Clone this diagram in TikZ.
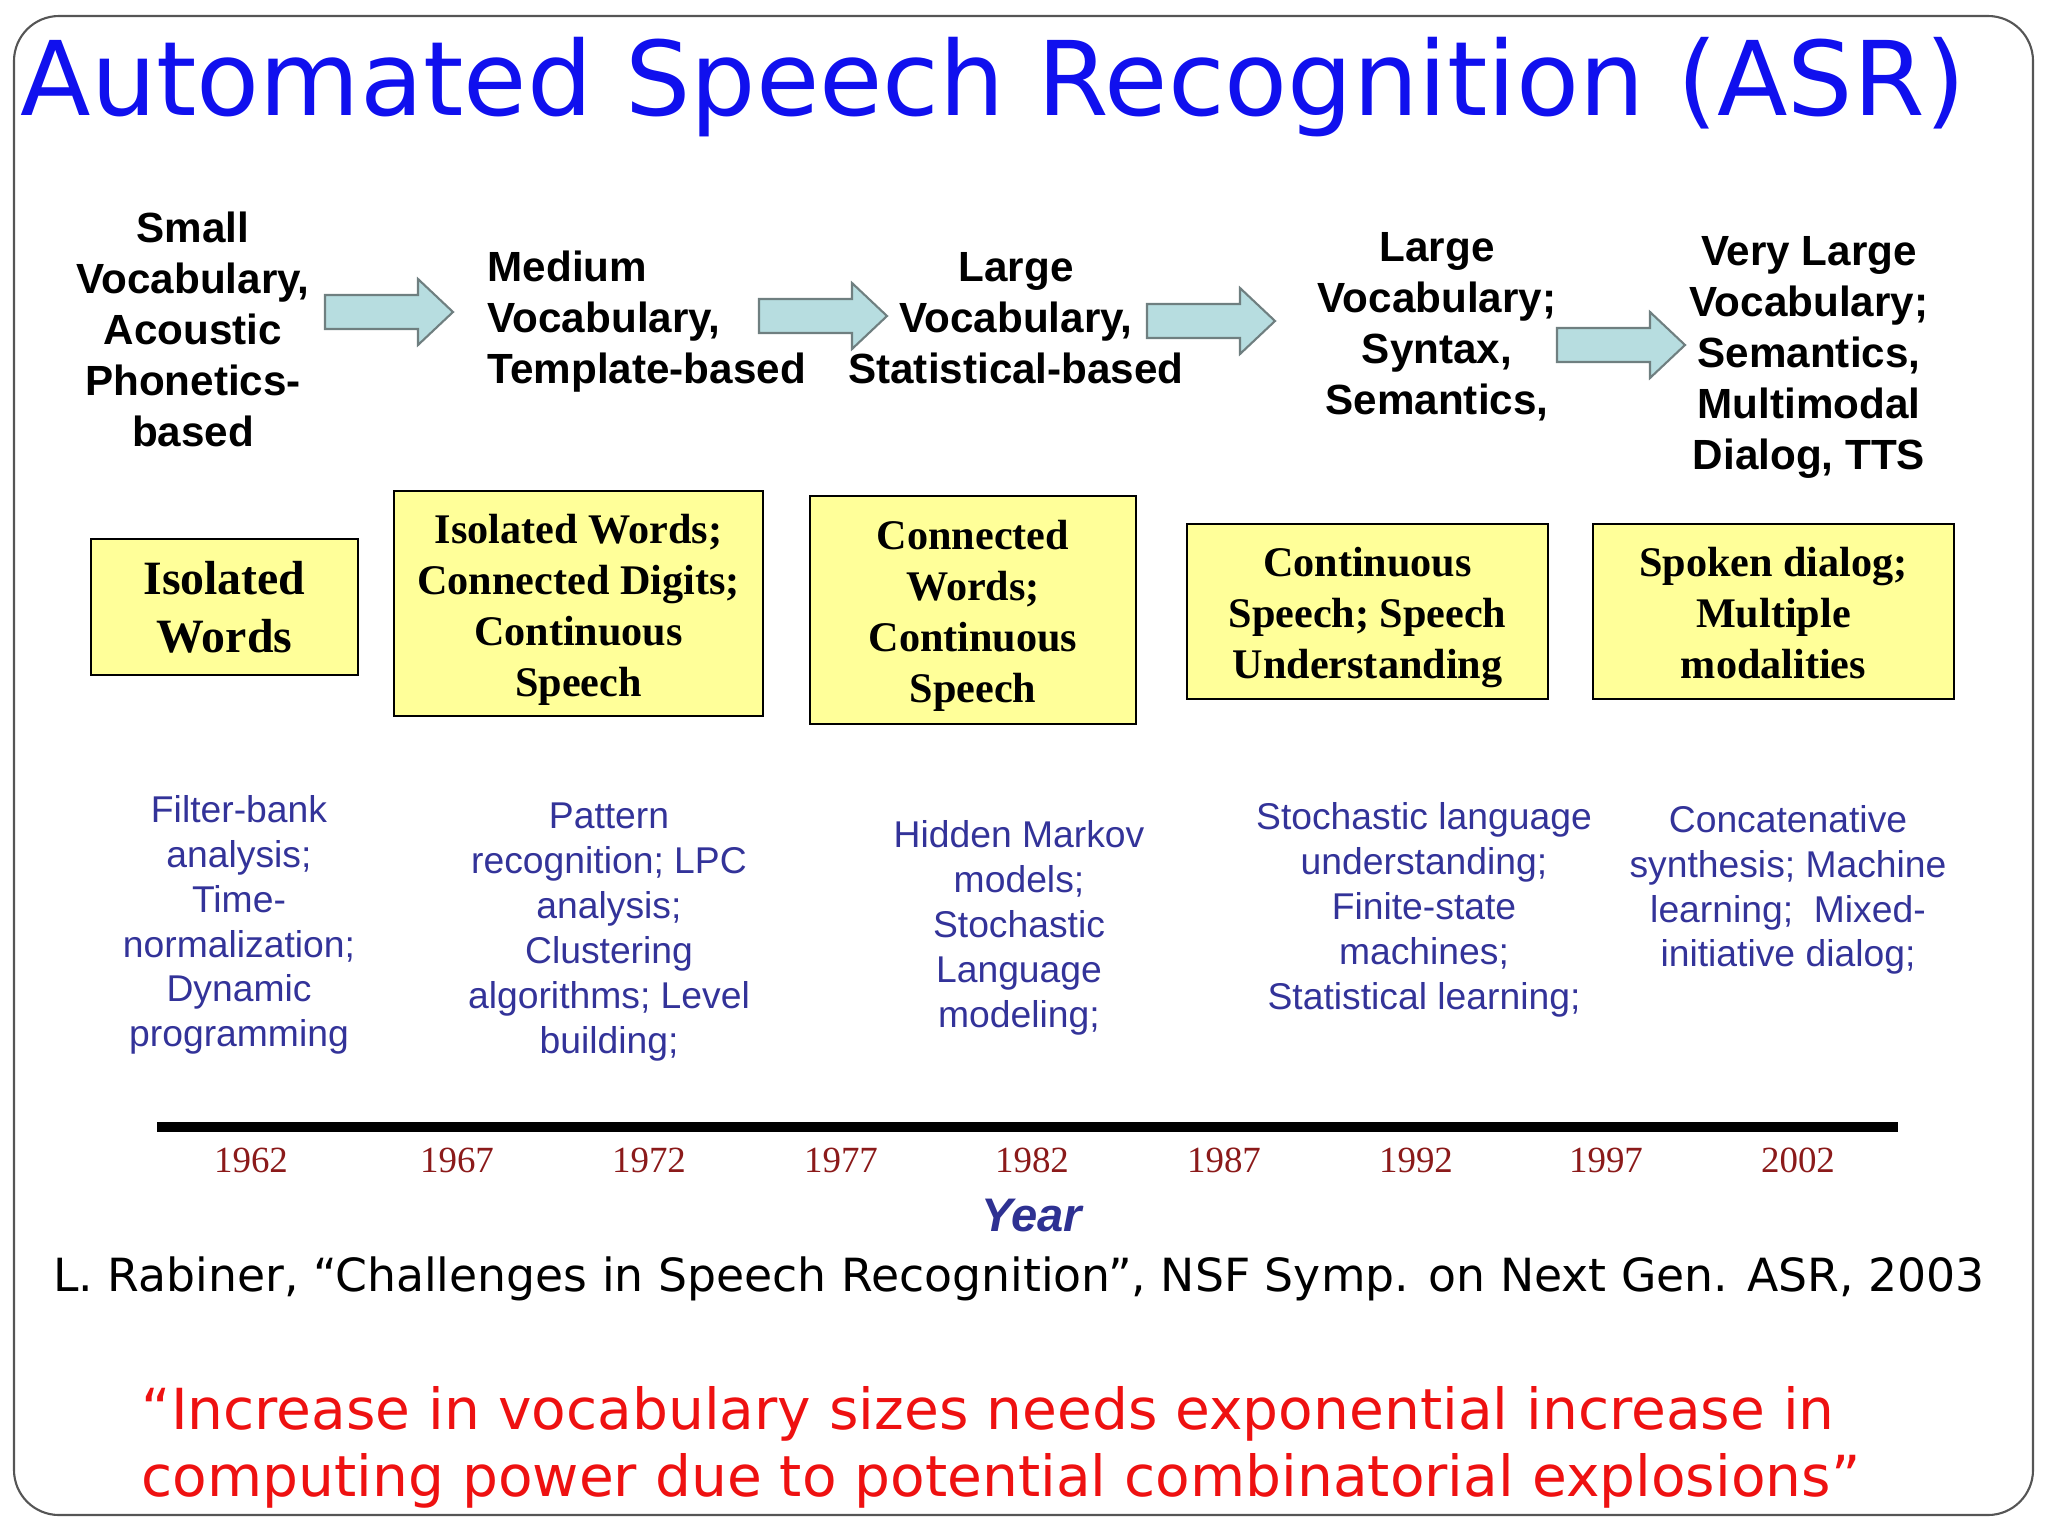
\documentclass[tikz,border=0pt]{standalone}
\usepackage{fontspec}
\setmainfont{Liberation Serif}
\newfontfamily\arialfont{Liberation Sans}
\newfontfamily\verdanafont{DejaVu Sans}
\usepackage{tikz}
\usetikzlibrary{positioning, calc}
\definecolor{titleBlue}{HTML}{1010EE}
\definecolor{methodBlue}{HTML}{333399}
\definecolor{yearBlue}{HTML}{2E3192}
\definecolor{yearRed}{HTML}{8B1A1A}
\definecolor{boxYellow}{HTML}{FFFF99}
\definecolor{arrowCyan}{HTML}{B7DDE0}
\definecolor{arrowEdge}{HTML}{6F7F80}
\definecolor{quoteRed}{HTML}{EE1111}
\definecolor{frameGray}{HTML}{555555}
\tikzset{
  vocab/.style={font=\arialfont\bfseries\fontsize{12}{14.5}\selectfont,
    align=center, inner sep=0pt},
  era/.style={rectangle, draw=black, line width=0.7pt, fill=boxYellow,
    align=center, font=\bfseries\fontsize{12}{14.5}\selectfont,
    inner sep=0pt},
  method/.style={font=\arialfont\fontsize{10.6}{12.75}\selectfont,
    text=methodBlue, align=center, inner sep=0pt},
  yearlbl/.style={font=\fontsize{10.5}{12}\selectfont, text=yearRed,
    inner sep=0pt},
  blockarrow/.style={fill=arrowCyan, draw=arrowEdge, line width=0.6pt,
    line join=miter},
}

\begin{document}
\begin{tikzpicture}[x=0.01cm, y=-0.01cm]
    \useasboundingbox (0,0) rectangle (2048,1536);
    \draw[frameGray, line width=0.6pt, rounded corners=0.45cm]
      (14,16) rectangle (2033,1515);

    \node[anchor=base west, inner sep=0pt, text=titleBlue,
      font=\verdanafont\fontsize{29.3}{34}\selectfont] (title) at (20,115)
      {Automated Speech Recognition (ASR)};

    % vocabulary headings
    \node[vocab] (small) at (193,329)
      {Small\\Vocabulary,\\Acoustic\\Phonetics-\\based};
    \node[vocab, align=left, anchor=west] (medium) at (487,322)
      {Medium\\Vocabulary,\\Template-based};
    \node[vocab] (large) at (1016,318)
      {Large\\Vocabulary,\\Statistical-based};
    \node[vocab] (larger) at (1437,327)
      {Large\\Vocabulary;\\Syntax,\\Semantics,};
    \node[vocab] (verylarge) at (1809,357)
      {Very Large\\Vocabulary;\\Semantics,\\Multimodal\\Dialog, TTS};

    \foreach \xa/\ym in {325/312, 759/316, 1147/321, 1557/345}
      \draw[blockarrow] ({\xa},{\ym-17}) -- ++(93,0) -- ++(0,-16)
        -- ++(35,33) -- ++(-35,33) -- ++(0,-16) -- ++(-93,0) -- cycle;

    % yellow boxes
    \node[era, minimum width=2.67cm, minimum height=1.36cm,
      font=\bfseries\fontsize{13.6}{16.4}\selectfont] (iso) at (224.5,607)
      {Isolated\\Words};
    \node[era, minimum width=3.69cm, minimum height=2.25cm] (isodig)
      at (578.5,603.5)
      {\rule{0pt}{11.8pt}Isolated Words;\\Connected Digits;\\Continuous\\Speech};
    \node[era, minimum width=3.26cm, minimum height=2.28cm] (connw)
      at (973,610)
      {\rule{0pt}{11.5pt}Connected\\Words;\\Continuous\\Speech};
    \node[era, minimum width=3.61cm, minimum height=1.75cm] (contsp)
      at (1367.5,611.5)
      {\rule{0pt}{11.5pt}Continuous\\Speech; Speech\\Understanding};
    \node[era, minimum width=3.61cm, minimum height=1.75cm] (dialog)
      at (1773.5,611.5)
      {\rule{0pt}{9pt}Spoken dialog;\\Multiple\\modalities};

    % techniques
    \node[method] (filt) at (239,925)
      {Filter-bank\\analysis;\\Time-\\normalization;\\Dynamic\\programming};
    \node[method] (patt) at (609,932)
      {Pattern\\recognition; LPC\\analysis;\\Clustering\\algorithms; Level\\building;};
    \node[method] (hmm) at (1019,928)
      {Hidden Markov\\models;\\Stochastic\\Language\\modeling;};
    \node[method] (stoch) at (1424,910)
      {Stochastic language\\understanding;\\Finite-state\\machines;\\Statistical learning;};
    \node[method] (concat) at (1788,890)
      {Concatenative\\synthesis; Machine\\learning;\ \ Mixed-\\initiative dialog;};

    % time axis
    \draw[line width=2.6pt] (157,1127) -- (1898,1127);
    \foreach \yr/\xp in {1962/251, 1967/457, 1972/649, 1977/841, 1982/1032,
      1987/1224, 1992/1416, 1997/1606, 2002/1798}
      \node[yearlbl] (y\yr) at (\xp,1160) {\yr};
    \node[font=\arialfont\bfseries\itshape\fontsize{13.4}{16}\selectfont,
      text=yearBlue, inner sep=0pt] (yearlabel) at (1032,1216) {Year};

    \node[anchor=base, inner sep=0pt,
      font=\verdanafont\fontsize{13}{15}\selectfont] (cite) at (1019,1291)
      {L. Rabiner, “Challenges in Speech Recognition”, NSF Symp. on Next Gen. ASR, 2003};
    \node[anchor=west, align=left, inner sep=0pt, text=quoteRed,
      font=\verdanafont\fontsize{16.1}{19}\selectfont] (quote) at (141,1447)
      {“Increase in vocabulary sizes needs exponential increase in\\
       computing power due to potential combinatorial explosions”};
  \end{tikzpicture}
\end{document}
